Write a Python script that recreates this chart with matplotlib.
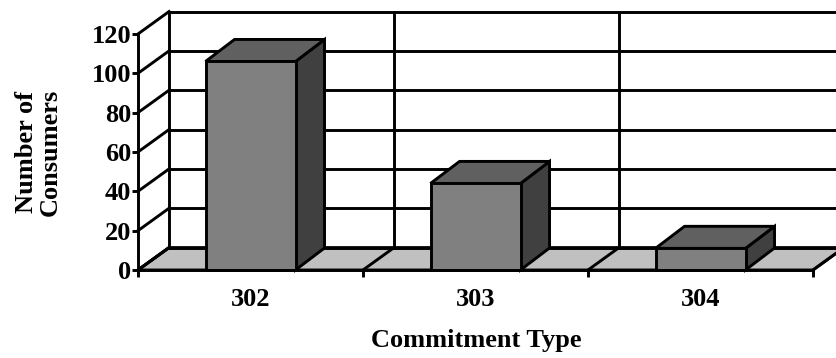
"""Pseudo-3D bar chart of consumers per commitment type."""

import matplotlib

matplotlib.use("Agg")
import matplotlib.pyplot as plt
from matplotlib.patches import Polygon

categories = ["302", "303", "304"]
consumers = [106, 44, 11]
y_ticks = [0, 20, 40, 60, 80, 100, 120]

FONT = "Liberation Serif"
WALL_DX = 0.138  # depth offset of back wall, in category units
WALL_DY = 11.4   # depth offset of back wall, in value units
BAR_DX = 0.129
BAR_DY = 11.2
BAR_W = 0.4
LW = 2.1


def draw_walls(ax, n, top):
    """Floor, left wall lines and back wall grid."""
    floor = Polygon([(0, 0), (n, 0), (n + WALL_DX, WALL_DY), (WALL_DX, WALL_DY)],
                    closed=True, facecolor="#c0c0c0", edgecolor="black",
                    linewidth=LW, zorder=1, clip_on=False)
    ax.add_patch(floor)
    for k in range(n + 1):
        ax.plot([k, k + WALL_DX], [0, WALL_DY], color="black", lw=LW,
                zorder=2, clip_on=False)
        ax.plot([k + WALL_DX, k + WALL_DX], [WALL_DY, top + WALL_DY],
                color="black", lw=LW, zorder=2, clip_on=False)
    for t in y_ticks:
        ax.plot([0, WALL_DX], [t, t + WALL_DY], color="black", lw=LW,
                zorder=2, clip_on=False)
        ax.plot([WALL_DX, n + WALL_DX], [t + WALL_DY, t + WALL_DY],
                color="black", lw=LW, zorder=2, clip_on=False)


def draw_bar(ax, center, value):
    """One box: front face, top face and right side."""
    x0 = center - BAR_W / 2
    x1 = center + BAR_W / 2
    front = [(x0, 0), (x1, 0), (x1, value), (x0, value)]
    top = [(x0, value), (x1, value), (x1 + BAR_DX, value + BAR_DY),
           (x0 + BAR_DX, value + BAR_DY)]
    side = [(x1, 0), (x1 + BAR_DX, BAR_DY), (x1 + BAR_DX, value + BAR_DY),
            (x1, value)]
    for pts, color in ((side, "#404040"), (top, "#606060"), (front, "#808080")):
        ax.add_patch(Polygon(pts, closed=True, facecolor=color,
                             edgecolor="black", linewidth=LW, zorder=5,
                             clip_on=False, joinstyle="miter"))


def main() -> None:
    fig = plt.figure(figsize=(8.36, 3.58), dpi=100)
    ax = fig.add_axes([138 / 836, 88 / 358, 698 / 836, 259 / 358])
    n = len(categories)
    top = y_ticks[-1]
    ax.set_xlim(0, 698 / 225)
    ax.set_ylim(0, 259 / 1.967)

    draw_walls(ax, n, top)
    for i, value in enumerate(consumers):
        draw_bar(ax, i + 0.5, value)

    for side in ("top", "right"):
        ax.spines[side].set_visible(False)
    ax.spines["left"].set_bounds(0, top)
    ax.spines["bottom"].set_bounds(0, n)
    ax.spines["left"].set_linewidth(LW)
    ax.spines["bottom"].set_linewidth(LW)
    ax.spines["left"].set_zorder(6)
    ax.spines["bottom"].set_zorder(6)

    ax.set_yticks(y_ticks)
    ax.set_yticklabels([str(t) for t in y_ticks], fontfamily=FONT,
                       fontweight="bold", fontsize=19)
    ax.tick_params(axis="y", direction="out", length=4, width=LW, pad=1)

    ax.set_xticks(range(n + 1))
    ax.set_xticklabels([])
    ax.set_xticks([i + 0.5 for i in range(n)], minor=True)
    ax.set_xticklabels(categories, minor=True, fontfamily=FONT,
                       fontweight="bold", fontsize=19)
    ax.tick_params(axis="x", which="major", direction="out", length=5,
                   width=LW)
    ax.tick_params(axis="x", which="minor", length=0, pad=13)

    fig.text(476 / 836, 18 / 358, "Commitment Type", ha="center",
             va="center", fontfamily=FONT, fontweight="bold", fontsize=19)
    fig.text(38 / 836, 206 / 358, "Number of\nConsumers", rotation=90,
             ha="center", va="center", multialignment="center",
             fontfamily=FONT, fontweight="bold", fontsize=19,
             linespacing=1.05)

    fig.savefig("out.png", dpi=100)


if __name__ == "__main__":
    main()
